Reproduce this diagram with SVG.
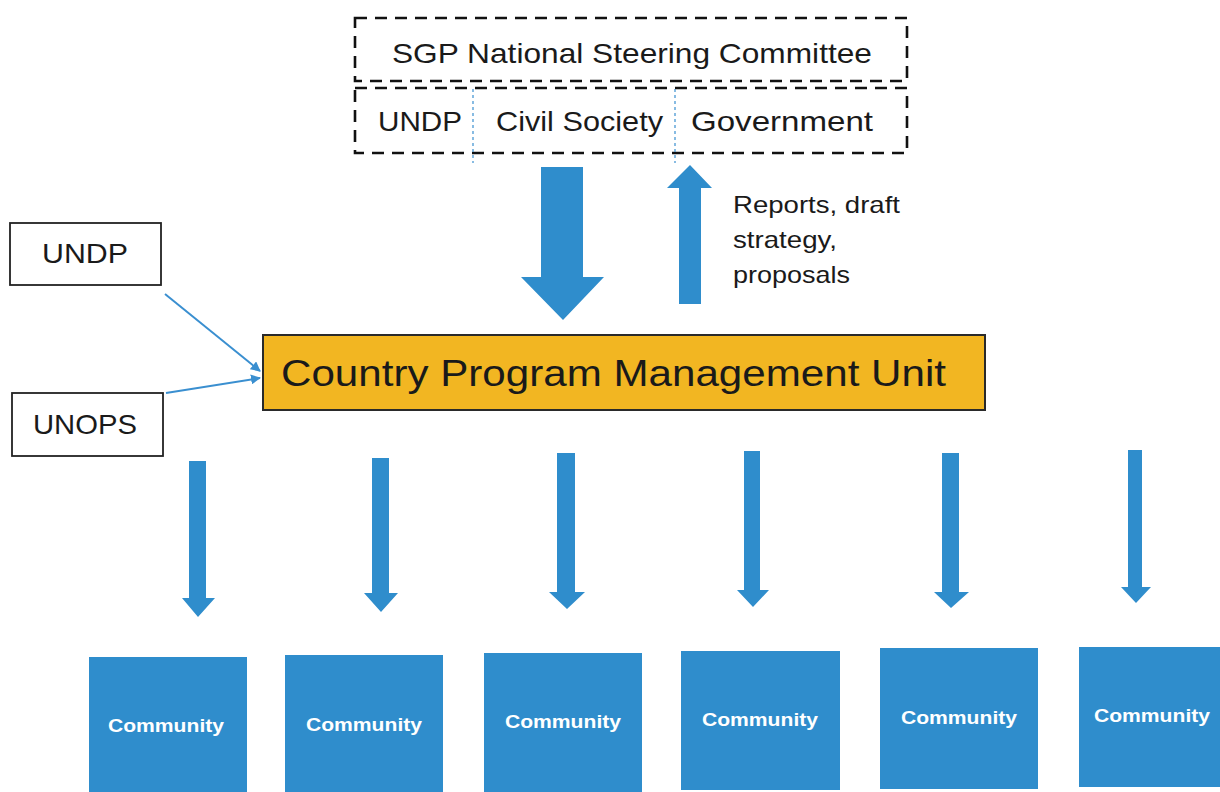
<svg xmlns="http://www.w3.org/2000/svg" width="1220" height="792" viewBox="0 0 1220 792">
  <style>
    .txt { font-family: "Liberation Sans", Arial, sans-serif; fill: #1a1a1a; }
    .dash { fill: none; stroke: #111; stroke-width: 2.6; stroke-dasharray: 12 8; }
    .divider { stroke: #3a8fd0; stroke-width: 1.2; stroke-dasharray: 3 3; }
    .plain { fill: #fff; stroke: #222; stroke-width: 1.8; }
    .blue { fill: #2f8dcc; }
    .comm { fill: #2f8dcc; }
    .commtxt { font-family: "Liberation Sans", Arial, sans-serif; font-weight: bold; font-size: 19px; fill: #fff; }
    .link { stroke: #3a8fd0; stroke-width: 2; fill: none; marker-end: url(#tip); }
  </style>
  <defs>
    <marker id="tip" viewBox="0 0 10 10" refX="9" refY="5" markerWidth="5" markerHeight="5" orient="auto" markerUnits="strokeWidth">
      <path d="M0,0 L10,5 L0,10 z" fill="#3a8fd0"/>
    </marker>
  </defs>

  <rect width="1220" height="792" fill="#fff"/>

  <!-- steering committee -->
  <g id="steering-committee">
    <rect class="dash" x="355" y="18" width="552" height="63"/>
    <text class="txt" x="632" y="63" font-size="28" text-anchor="middle" textLength="480" lengthAdjust="spacingAndGlyphs">SGP National Steering Committee</text>
  </g>

  <g id="committee-members">
    <rect class="dash" x="355" y="88" width="552" height="65"/>
    <line class="divider" x1="473" y1="89" x2="473" y2="163"/>
    <line class="divider" x1="675" y1="89" x2="675" y2="163"/>
    <text class="txt" x="378" y="131" font-size="28" textLength="84" lengthAdjust="spacingAndGlyphs">UNDP</text>
    <text class="txt" x="496" y="131" font-size="28" textLength="167" lengthAdjust="spacingAndGlyphs">Civil Society</text>
    <text class="txt" x="691" y="131" font-size="28" textLength="182" lengthAdjust="spacingAndGlyphs">Government</text>
  </g>

  <!-- side partners -->
  <g id="undp">
    <rect class="plain" x="10" y="223" width="151" height="62"/>
    <text class="txt" x="85" y="263" font-size="28" text-anchor="middle" textLength="86" lengthAdjust="spacingAndGlyphs">UNDP</text>
  </g>
  <g id="unops">
    <rect class="plain" x="12" y="393" width="151" height="63"/>
    <text class="txt" x="85" y="434" font-size="28" text-anchor="middle" textLength="104" lengthAdjust="spacingAndGlyphs">UNOPS</text>
  </g>

  <!-- management unit -->
  <g id="cpmu">
    <rect x="263" y="335" width="722" height="75" fill="#f2b622" stroke="#2a2a2a" stroke-width="2"/>
    <text class="txt" x="281" y="386" font-size="37" textLength="665" lengthAdjust="spacingAndGlyphs">Country Program Management Unit</text>
  </g>

  <g id="reports-label" class="txt" font-size="24" fill="#222">
    <text x="733" y="213" textLength="167" lengthAdjust="spacingAndGlyphs">Reports, draft</text>
    <text x="733" y="248" textLength="104" lengthAdjust="spacingAndGlyphs">strategy,</text>
    <text x="733" y="283" textLength="117" lengthAdjust="spacingAndGlyphs">proposals</text>
  </g>

  <!-- communities -->
  <g id="community-1"><rect class="comm" x="89" y="657" width="158" height="135"/><text class="commtxt" x="166" y="732" text-anchor="middle" textLength="116" lengthAdjust="spacingAndGlyphs">Community</text></g>
  <g id="community-2"><rect class="comm" x="285" y="655" width="158" height="137"/><text class="commtxt" x="364" y="731" text-anchor="middle" textLength="116" lengthAdjust="spacingAndGlyphs">Community</text></g>
  <g id="community-3"><rect class="comm" x="484" y="653" width="158" height="139"/><text class="commtxt" x="563" y="728" text-anchor="middle" textLength="116" lengthAdjust="spacingAndGlyphs">Community</text></g>
  <g id="community-4"><rect class="comm" x="681" y="651" width="159" height="139"/><text class="commtxt" x="760" y="726" text-anchor="middle" textLength="116" lengthAdjust="spacingAndGlyphs">Community</text></g>
  <g id="community-5"><rect class="comm" x="880" y="648" width="158" height="141"/><text class="commtxt" x="959" y="724" text-anchor="middle" textLength="116" lengthAdjust="spacingAndGlyphs">Community</text></g>
  <g id="community-6"><rect class="comm" x="1079" y="647" width="141" height="140"/><text class="commtxt" x="1152" y="722" text-anchor="middle" textLength="116" lengthAdjust="spacingAndGlyphs">Community</text></g>

  <!-- connectors -->
  <g id="connectors">
    <!-- block arrows between committee and unit -->
    <path class="blue" d="M541,167 H583 V277 H604 L563,320 L521,277 H541 Z"/>
    <path class="blue" d="M679,304 V188 H667 L690,165 L712,188 H701 V304 Z"/>

    <!-- partner links -->
    <line class="link" x1="165" y1="294" x2="260" y2="371"/>
    <line class="link" x1="166" y1="393" x2="260" y2="378"/>

    <!-- unit to communities -->
    <path class="blue" d="M189,461 H206 V598 H215 L198,617 L182,598 H189 Z"/>
    <path class="blue" d="M372,458 H389 V593 H398 L381,612 L364,593 H372 Z"/>
    <path class="blue" d="M557,453 H575 V592 H585 L567,609 L549,592 H557 Z"/>
    <path class="blue" d="M744,451 H760 V590 H769 L753,607 L737,590 H744 Z"/>
    <path class="blue" d="M942,453 H959 V592 H969 L951,608 L934,592 H942 Z"/>
    <path class="blue" d="M1128,450 H1142 V587 H1151 L1136,603 L1121,587 H1128 Z"/>
  </g>
</svg>
